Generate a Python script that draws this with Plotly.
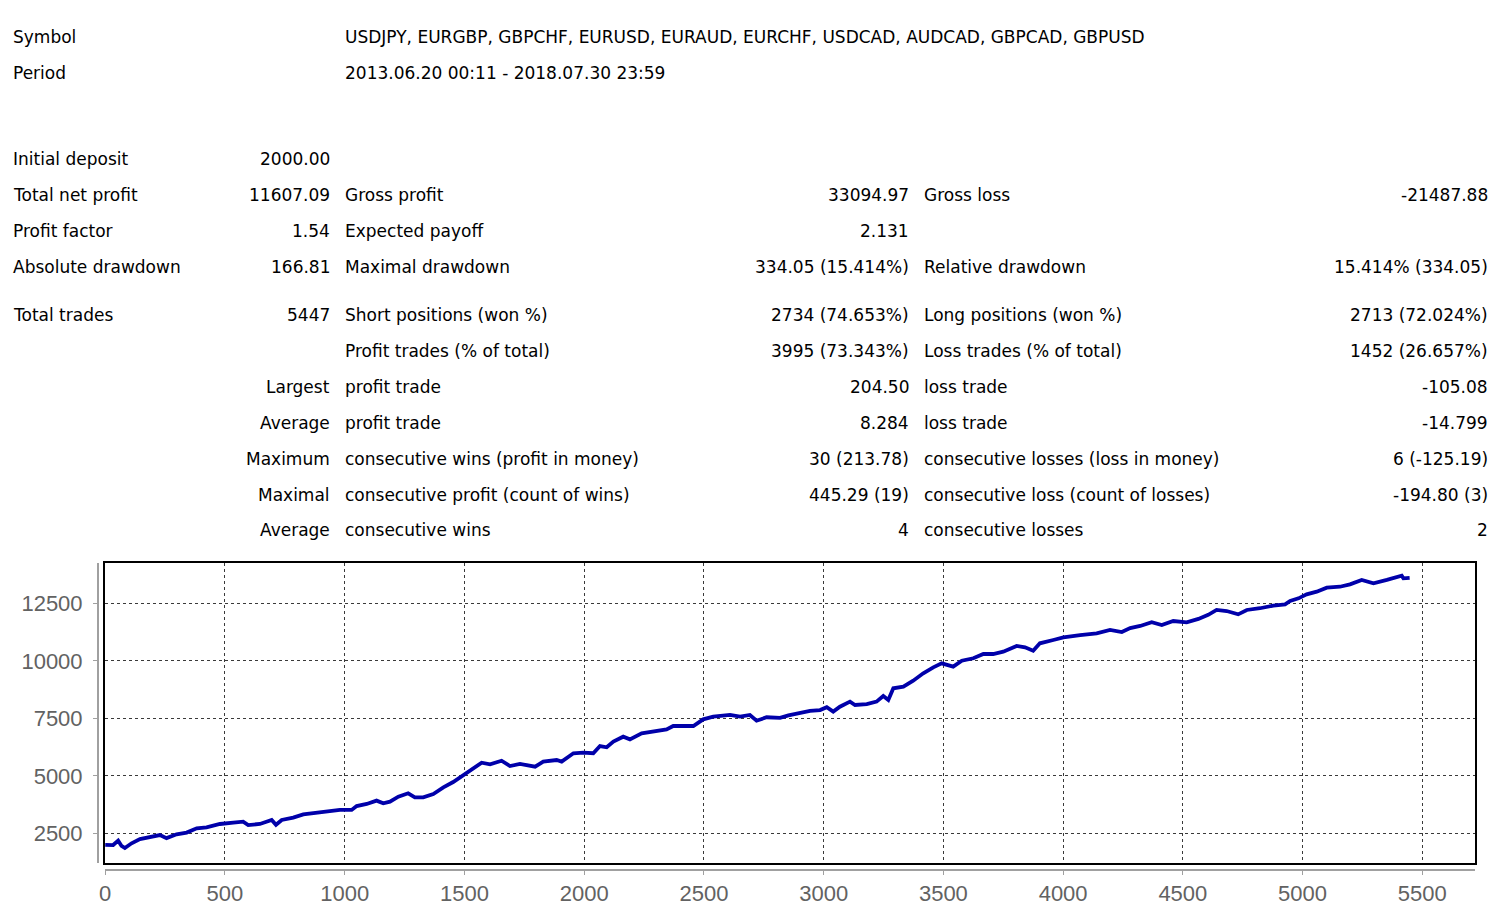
import plotly.graph_objects as go

# ---------------- data ----------------
trade_no = [0, 33, 54, 68, 82, 110, 145, 187, 228, 256, 298, 340, 382, 423, 479, 535, 576, 597,
            646, 695, 713, 737, 785, 827, 883, 938, 980, 1029, 1050, 1092, 1133, 1161, 1189, 1224,
            1265, 1293, 1328, 1370, 1412, 1453, 1502, 1537, 1572, 1607, 1655, 1690, 1732, 1795,
            1829, 1885, 1906, 1955, 1996, 2038, 2066, 2094, 2122, 2163, 2191, 2240, 2289, 2344,
            2372, 2456, 2497, 2539, 2609, 2651, 2692, 2720, 2762, 2818, 2853, 2887, 2943, 2985,
            3013, 3040, 3068, 3110, 3131, 3180, 3221, 3249, 3270, 3291, 3333, 3374, 3416, 3458,
            3493, 3541, 3577, 3625, 3667, 3708, 3750, 3806, 3841, 3875, 3903, 3959, 4001, 4071,
            4140, 4196, 4245, 4280, 4322, 4370, 4412, 4460, 4516, 4565, 4606, 4641, 4683, 4731,
            4767, 4822, 4878, 4927, 4948, 4983, 5017, 5059, 5101, 5156, 5198, 5247, 5296, 5352,
            5393, 5414, 5421, 5447]
balance = [2000, 1990, 2180, 1950, 1860, 2065, 2250, 2350, 2425, 2290, 2455, 2530, 2715, 2760,
           2905, 2960, 3005, 2860, 2905, 3080, 2870, 3080, 3180, 3325, 3395, 3485, 3515, 3515,
           3685, 3775, 3920, 3805, 3875, 4090, 4240, 4065, 4065, 4210, 4500, 4730, 5080, 5325,
           5570, 5500, 5655, 5425, 5515, 5395, 5615, 5685, 5615, 5980, 6005, 5980, 6295, 6240,
           6485, 6700, 6585, 6850, 6915, 7020, 7165, 7165, 7455, 7570, 7645, 7570, 7645, 7395,
           7545, 7520, 7630, 7715, 7820, 7860, 7980, 7790, 8005, 8225, 8080, 8120, 8225, 8470,
           8295, 8805, 8875, 9135, 9455, 9715, 9890, 9745, 10005, 10110, 10295, 10295, 10395,
           10645, 10585, 10440, 10760, 10905, 11020, 11120, 11195, 11340, 11250, 11420, 11515,
           11675, 11555, 11730, 11675, 11820, 12000, 12210, 12165, 12020, 12210, 12285, 12400,
           12455, 12600, 12715, 12890, 13005, 13180, 13220, 13325, 13515, 13370, 13515, 13615,
           13700, 13585, 13607]

x_ticks = [0, 500, 1000, 1500, 2000, 2500, 3000, 3500, 4000, 4500, 5000, 5500]
y_ticks = [2500, 5000, 7500, 10000, 12500]

header_labels = ["Symbol", "Period"]
header_values = ["USDJPY, EURGBP, GBPCHF, EURUSD, EURAUD, EURCHF, USDCAD, AUDCAD, GBPCAD, GBPUSD",
                 "2013.06.20 00:11 - 2018.07.30 23:59"]

stat_col1 = ["Initial deposit", "Total net profit", "Profit factor", "Absolute drawdown",
             "Total trades", "", "", "", "", "", ""]
stat_col2 = ["2000.00", "11607.09", "1.54", "166.81", "5447", "",
             "Largest", "Average", "Maximum", "Maximal", "Average"]
stat_col3 = ["", "Gross profit", "Expected payoff", "Maximal drawdown", "Short positions (won %)",
             "Profit trades (% of total)", "profit trade", "profit trade",
             "consecutive wins (profit in money)", "consecutive profit (count of wins)",
             "consecutive wins"]
stat_col4 = ["", "33094.97", "2.131", "334.05 (15.414%)", "2734 (74.653%)", "3995 (73.343%)",
             "204.50", "8.284", "30 (213.78)", "445.29 (19)", "4"]
stat_col5 = ["", "Gross loss", "", "Relative drawdown", "Long positions (won %)",
             "Loss trades (% of total)", "loss trade", "loss trade",
             "consecutive losses (loss in money)", "consecutive loss (count of losses)",
             "consecutive losses"]
stat_col6 = ["", "-21487.88", "", "15.414% (334.05)", "2713 (72.024%)", "1452 (26.657%)",
             "-105.08", "-14.799", "6 (-125.19)", "-194.80 (3)", "2"]

# ---------------- layout geometry (pixels) ----------------
W, H = 1501, 910
L, R, T, B = 98, 1475, 563, 870
PW, PH = R - L, B - T
header_y = [37, 73]
stat_y = [159, 195, 231, 267, 315, 351, 387, 423, 459, 495, 530]
cols = [(12, "left"), (331, "right"), (344, "left"), (910, "right"), (923, "left"), (1489, "right")]

def px(xp):
    return (xp - L) / PW

def py(yp):
    return (B - yp) / PH

text_font = dict(family="DejaVu Sans", size=17, color="#000000")
annotations = []

def add_text(txt, xp, yp, anchor):
    if not txt:
        return
    annotations.append(dict(text=txt, x=px(xp), y=py(yp), xref="paper", yref="paper",
                            xanchor=anchor, yanchor="middle", showarrow=False,
                            font=text_font, borderpad=0))

for lab, val, yv in zip(header_labels, header_values, header_y):
    add_text(lab, cols[0][0], yv, cols[0][1])
    add_text(val, cols[2][0], yv, cols[2][1])

for i, yv in enumerate(stat_y):
    for col, (xp, anc) in zip([stat_col1, stat_col2, stat_col3, stat_col4, stat_col5, stat_col6], cols):
        add_text(col[i], xp, yv, anc)

# ---------------- figure ----------------
x_range = [-1, 5720]
y_range = [1209, 14252]
x_dom = [7 / PW, 1]
y_dom = [7 / PH, 1]

fig = go.Figure()
fig.add_trace(go.Scatter(x=trade_no, y=balance, mode="lines",
                         line=dict(color="#0000AA", width=3.8),
                         xaxis="x", yaxis="y", showlegend=False, hoverinfo="skip"))
fig.add_trace(go.Scatter(x=[], y=[], xaxis="x2", yaxis="y2", showlegend=False,
                         hoverinfo="skip"))

tick_font = dict(family="Liberation Sans", size=22, color="#626262")

fig.update_layout(
    width=W, height=H,
    margin=dict(l=L, r=W - R, t=T, b=H - B, pad=0, autoexpand=False),
    paper_bgcolor="white", plot_bgcolor="rgba(0,0,0,0)",
    showlegend=False,
    annotations=annotations,
    xaxis=dict(domain=x_dom, range=x_range, anchor="y", tickvals=x_ticks,
               showticklabels=False, ticks="", showgrid=True, gridcolor="#3a3a3a",
               griddash="dot", gridwidth=1, zeroline=False, showline=True,
               linecolor="#000000", linewidth=2, mirror=True, automargin=False),
    yaxis=dict(domain=y_dom, range=y_range, anchor="x", tickvals=y_ticks,
               showticklabels=False, ticks="", showgrid=True, gridcolor="#3a3a3a",
               griddash="dot", gridwidth=1, zeroline=False, showline=True,
               linecolor="#000000", linewidth=2, mirror=True, automargin=False),
    xaxis2=dict(domain=x_dom, range=x_range, anchor="free", position=0, tickvals=x_ticks,
                tickformat="d", ticks="outside", ticklen=4, tickwidth=1, tickcolor="#a0a0a0",
                showline=True, linecolor="#a0a0a0", linewidth=2, showgrid=False,
                zeroline=False, tickfont=tick_font, ticklabelstandoff=0, automargin=False),
    yaxis2=dict(domain=y_dom, range=y_range, anchor="free", position=0, side="left",
                tickvals=y_ticks, tickformat="d", ticks="outside", ticklen=4, tickwidth=1,
                tickcolor="#a0a0a0", showline=True, linecolor="#a0a0a0", linewidth=2,
                showgrid=False, zeroline=False, tickfont=tick_font, ticklabelstandoff=6,
                automargin=False),
)

fig.write_html("out.html")
